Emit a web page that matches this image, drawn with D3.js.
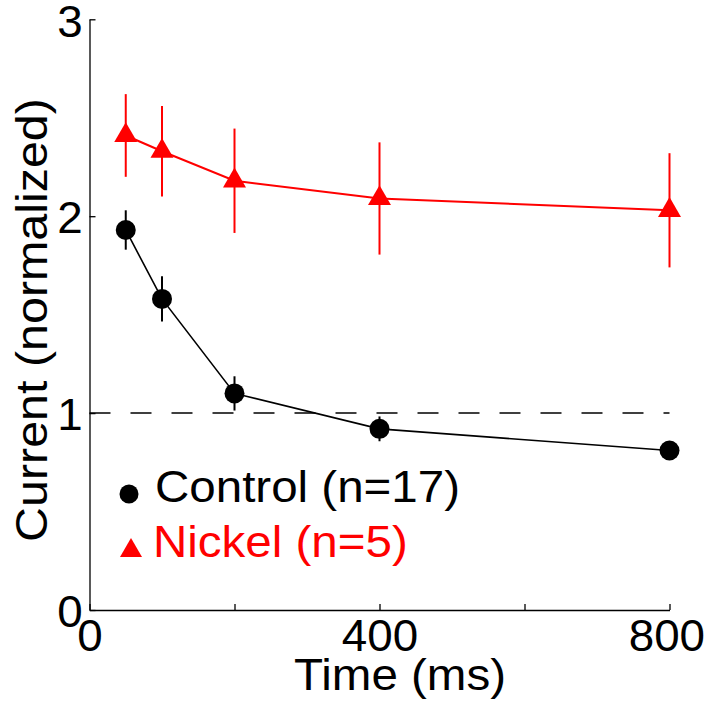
<!DOCTYPE html>
<html>
<head>
<meta charset="utf-8">
<script src="https://cdn.jsdelivr.net/npm/d3@7"></script>
<style>
  html, body { margin: 0; padding: 0; background: #fff; }
  svg { display: block; }
  text { font-family: Arial, "Liberation Sans", Helvetica, sans-serif; }
</style>
</head>
<body>
<svg id="chart" width="708" height="709"></svg>
<script>
// ---- data ----
const times = [50, 100, 200, 400, 800];
const controlMean = [1.93, 1.58, 1.10, 0.92, 0.81];
const controlErr  = [0.10, 0.115, 0.087, 0.063, 0.02];
const nickelMean  = [2.41, 2.33, 2.18, 2.09, 2.03];
const nickelErr   = [0.21, 0.23, 0.265, 0.285, 0.29];
const xTicks = [0, 200, 400, 600, 800];
const xTickLabels = ["0", "", "400", "", "800"];
const yTicks = [0, 1, 2, 3];
const yTickLabels = ["0", "1", "2", "3"];
const seriesNames = ["Control (n=17)", "Nickel (n=5)"];
const xLabel = "Time (ms)";
const yLabel = "Current (normalized)";
const refLevel = 1;

// ---- layout ----
const svg = d3.select("#chart");
const mLeft = 89.5, mRight = 669.5, mTop = 19.3, mBottom = 610;
const x = d3.scaleLinear().domain([0, 800]).range([mLeft, mRight]);
const y = d3.scaleLinear().domain([0, 3]).range([mBottom, mTop]);
const fs = 44;
const sx = 1.08;   // horizontal stretch of the reference lettering
const sxTick = 1.04;

// axes
const xAxis = d3.axisBottom(x).tickValues(xTicks).tickSize(-6).tickSizeOuter(0)
  .tickFormat((d, i) => xTickLabels[i]);
const gx = svg.append("g").attr("transform", `translate(0,${mBottom})`).call(xAxis);
const yAxis = d3.axisLeft(y).tickValues(yTicks).tickSize(-6).tickSizeOuter(0)
  .tickFormat((d, i) => yTickLabels[i]);
const gy = svg.append("g").attr("transform", `translate(${mLeft},0)`).call(yAxis);
[gx, gy].forEach(g => {
  g.select(".domain").attr("stroke", "#000").attr("stroke-width", 1.3);
  g.selectAll(".tick line").attr("stroke", "#000").attr("stroke-width", 1.3);
  g.selectAll(".tick text").attr("fill", "#000").attr("font-size", fs)
    .attr("font-family", "Arial, 'Liberation Sans', sans-serif")
    .attr("transform", `scale(${sxTick},1)`);
});
gx.selectAll(".tick text").attr("y", 10).attr("dy", "0.71em");
gx.selectAll(".tick text").filter(d => d === 800).attr("x", -3);
gy.selectAll(".tick text").attr("x", -6.5).attr("dy", "0.38em");

// axis labels
svg.append("text").attr("transform", `translate(400,690) scale(${sx},1)`).attr("text-anchor", "middle")
  .attr("font-size", fs).attr("fill", "#000").text(xLabel);
svg.append("text").attr("transform", `translate(47,320) rotate(-90) scale(${sx + 0.02},1)`)
  .attr("text-anchor", "middle").attr("font-size", fs).attr("fill", "#000").text(yLabel);

// reference dashed line
svg.append("line")
  .attr("x1", x(0)).attr("x2", x(800)).attr("y1", y(refLevel)).attr("y2", y(refLevel))
  .attr("stroke", "#000").attr("stroke-width", 1.5).attr("stroke-dasharray", "21,20");

function drawSeries(means, errs, color, symbolType, symbolSize, lineW) {
  const pts = times.map((t, i) => ({ t, m: means[i], e: errs[i] }));
  const g = svg.append("g");
  g.selectAll("line.err").data(pts).join("line")
    .attr("x1", d => x(d.t)).attr("x2", d => x(d.t))
    .attr("y1", d => y(d.m + d.e)).attr("y2", d => y(d.m - d.e))
    .attr("stroke", color).attr("stroke-width", 2);
  g.append("path").datum(pts)
    .attr("d", d3.line().x(d => x(d.t)).y(d => y(d.m)))
    .attr("fill", "none").attr("stroke", color).attr("stroke-width", lineW);
  g.selectAll("path.sym").data(pts).join("path")
    .attr("transform", d => `translate(${x(d.t)},${y(d.m)})`)
    .attr("d", d3.symbol().type(symbolType).size(symbolSize))
    .attr("fill", color);
}
drawSeries(controlMean, controlErr, "#000", d3.symbolCircle, Math.PI * 10 * 10, 1.6);
drawSeries(nickelMean, nickelErr, "#ff0000", d3.symbolTriangle, 229, 2);

// legend
const legend = svg.append("g");
legend.append("path").attr("transform", "translate(129,494)")
  .attr("d", d3.symbol().type(d3.symbolCircle).size(Math.PI * 9.5 * 9.5)).attr("fill", "#000");
legend.append("text").attr("transform", `translate(155,502) scale(${sx},1)`)
  .attr("font-size", fs).attr("fill", "#000").text(seriesNames[0]);
legend.append("path").attr("transform", "translate(131,550.7)")
  .attr("d", d3.symbol().type(d3.symbolTriangle).size(209)).attr("fill", "#ff0000");
legend.append("text").attr("transform", `translate(153,557) scale(${sx},1)`)
  .attr("font-size", fs).attr("fill", "#ff0000").text(seriesNames[1]);
</script>
</body>
</html>
